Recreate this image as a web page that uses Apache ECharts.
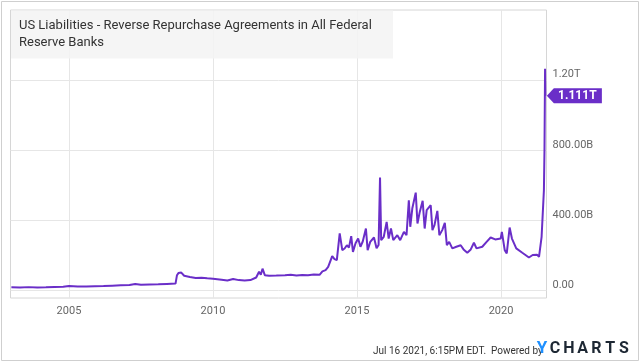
<!DOCTYPE html>
<html>
<head>
<meta charset="utf-8">
<script src="https://cdn.jsdelivr.net/npm/echarts@6/dist/echarts.min.js"></script>
<style>
html,body{margin:0;padding:0;background:#fff;}
#chart{width:640px;height:362px;}
</style>
</head>
<body>
<div id="chart"></div>
<script>
// decimal year of each observation
const years = [
2003.00,2003.30,2003.60,2003.90,2004.20,2004.50,2004.80,2005.00,2005.30,2005.60,2005.90,
2006.20,2006.50,2006.80,2007.10,2007.30,2007.50,2007.80,2008.10,2008.40,2008.70,
2008.75,2008.80,2008.85,2008.90,2009.00,2009.20,2009.40,2009.60,2009.80,2010.00,
2010.05,2010.30,2010.50,2010.70,2010.90,2011.10,2011.30,2011.50,2011.60,2011.66,
2011.72,2011.80,2011.95,2012.20,2012.50,2012.70,2012.90,2013.10,2013.30,2013.50,
2013.70,2013.80,2013.91,2014.00,2014.14,2014.22,2014.30,2014.40,2014.49,2014.57,
2014.65,2014.72,2014.80,2014.86,2014.95,2015.04,2015.12,2015.20,2015.31,2015.37,
2015.46,2015.59,2015.68,2015.75,2015.80,2015.84,2015.93,2016.03,2016.10,2016.18,
2016.26,2016.40,2016.50,2016.63,2016.72,2016.80,2016.85,2016.92,2017.04,2017.10,
2017.18,2017.28,2017.35,2017.42,2017.56,2017.62,2017.69,2017.79,2017.86,2017.96,
2018.05,2018.12,2018.20,2018.31,2018.45,2018.60,2018.70,2018.83,2018.95,2019.06,
2019.15,2019.35,2019.50,2019.64,2019.80,2019.99,2020.03,2020.13,2020.20,2020.30,
2020.38,2020.53,2020.74,2020.97,2021.10,2021.25,2021.32,2021.41,2021.49,2021.51,
2021.53,2021.54
];
// value in billions of USD
const values = [
19,18,20,18,19,21,22,26,24,23,25,
26,28,30,32,38,33,35,36,38,40,
88,100,92,103,85,78,72,74,70,68,
60,62,58,66,60,58,60,75,108,90,
125,88,85,86,88,90,86,89,88,92,
90,110,117,135,197,180,174,326,231,240,
259,245,311,221,270,297,250,280,354,231,
278,303,242,260,645,288,307,392,297,354,
288,316,288,335,316,515,364,468,559,383,
449,512,354,459,487,345,373,455,316,345,
386,259,278,241,250,259,235,216,235,273,
241,250,278,303,292,297,335,231,212,360,
297,241,216,189,203,205,193,307,572,800,
1265,1111
];
const yearTicks = [2005, 2010, 2015, 2020];
const valueTicks = [0, 400, 800, 1200];
const valueTickLabels = ['0.00', '400.00B', '800.00B', '1.20T'];
const lastLabel = '1.111T';
const titleText = 'US Liabilities - Reverse Repurchase Agreements in All Federal\nReserve Banks';
const footerText = 'Jul 16 2021, 6:15PM EDT.  Powered by';
const logoLetters = ['C', 'H', 'A', 'R', 'T', 'S'];

const purple = '#6a2ec8';
const seriesData = years.map((y, i) => [y, values[i]]);
const last = seriesData[seriesData.length - 1];

const logoGraphics = logoLetters.map((ch, i) => ({
  type: 'text', z: 51, x: 555 + i * 13.8, y: 349,
  style: {text: ch, font: 'bold 16px Roboto', fill: '#1d2733', align: 'center', verticalAlign: 'middle'}
}));

const chart = echarts.init(document.getElementById('chart'), null, {renderer: 'canvas'});
chart.setOption({
  animation: false,
  backgroundColor: '#fff',
  textStyle: {fontFamily: 'Roboto'},
  grid: {left: 10.5, right: 93.5, top: 10, bottom: 64, show: true, borderColor: '#d6d6d6', borderWidth: 1},
  xAxis: {
    type: 'value', min: 2002.97, max: 2021.58,
    axisLine: {show: false},
    axisTick: {show: false, customValues: yearTicks},
    splitLine: {show: true, lineStyle: {color: '#e6e6e6', width: 1}},
    axisLabel: {customValues: yearTicks, formatter: v => String(Math.round(v)), color: '#666', fontSize: 11, margin: 8}
  },
  yAxis: {
    type: 'value', position: 'right', min: -42, max: 1600,
    axisLine: {show: false},
    axisTick: {show: false, customValues: valueTicks},
    splitLine: {show: true, lineStyle: {color: '#e6e6e6', width: 1}},
    axisLabel: {
      customValues: valueTicks,
      formatter: v => valueTickLabels[valueTicks.indexOf(Math.round(v))] || '',
      color: '#666', fontSize: 11, margin: 6, verticalAlign: 'bottom'
    }
  },
  series: [{
    type: 'line', data: seriesData, showSymbol: false, symbol: 'none',
    lineStyle: {color: purple, width: 2}, itemStyle: {color: purple},
    markPoint: {
      silent: true,
      data: [{coord: last, value: lastLabel}],
      symbol: 'path://M0,7.5 L7,0 L55,0 L55,15 L7,15 Z',
      symbolKeepAspect: false,
      symbolSize: [55, 15],
      symbolOffset: [29, 0],
      itemStyle: {color: purple},
      label: {show: true, position: 'inside', formatter: lastLabel, color: '#fff', fontWeight: 'bold', fontSize: 12, offset: [3, 0]}
    }
  }],
  graphic: [
    {type: 'rect', z: 50, shape: {x: 1.5, y: 1.5, width: 637, height: 359}, style: {fill: 'none', stroke: '#cfcfcf', lineWidth: 1}},
    {type: 'rect', z: 50, shape: {x: 11, y: 10.5, width: 382, height: 48}, style: {fill: 'rgba(244,244,244,0.88)'}},
    {type: 'text', z: 51, left: 19, top: 17, style: {text: titleText, font: '13px Roboto', fill: '#333', lineHeight: 17}},
    {type: 'text', z: 51, left: 373, top: 346, style: {text: footerText, font: '10px Roboto', fill: '#333'}},
    {type: 'text', z: 51, x: 542, y: 348.5, style: {text: 'Y', font: 'bold 17px Roboto', fill: '#1e90ff', align: 'center', verticalAlign: 'middle'}}
  ].concat(logoGraphics)
});
</script>
</body>
</html>
